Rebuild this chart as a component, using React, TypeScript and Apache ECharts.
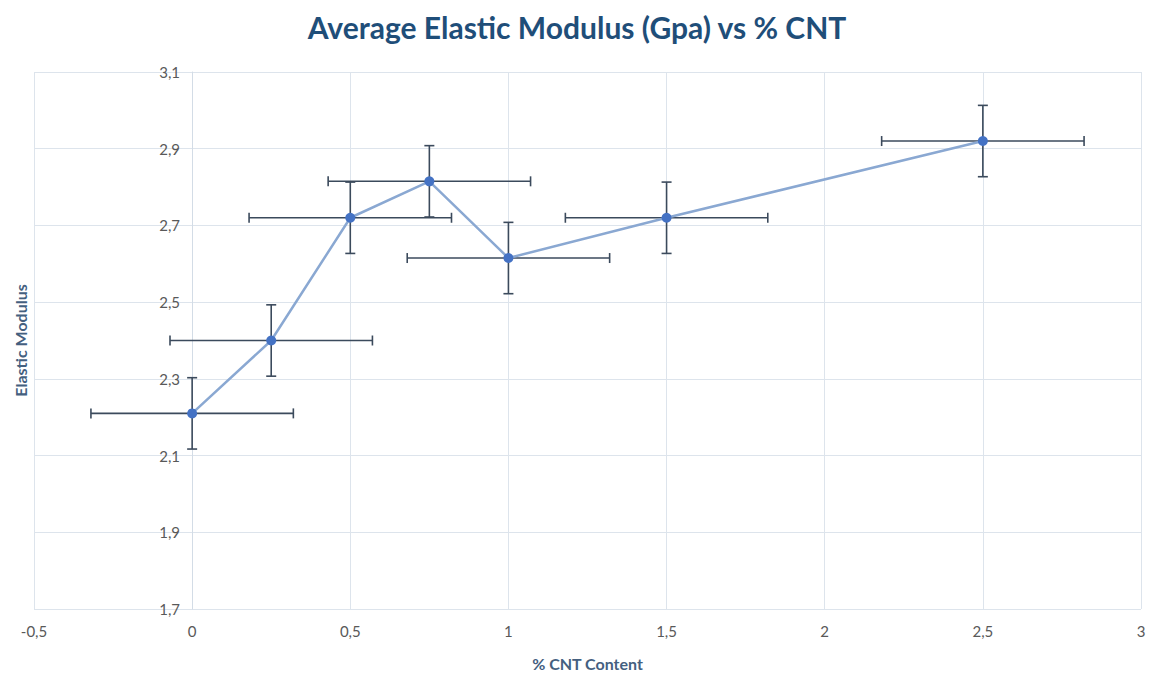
import React, { useEffect, useRef } from "react";
import * as echarts from "echarts";

const cntContent = [0, 0.25, 0.5, 0.75, 1, 1.5, 2.5];
const elasticModulus = [2.21, 2.4, 2.72, 2.815, 2.615, 2.72, 2.92];
const yError = [0.093, 0.093, 0.093, 0.093, 0.093, 0.093, 0.093];
const xError = [0.32, 0.32, 0.32, 0.32, 0.32, 0.32, 0.32];

const titleText = "Average Elastic Modulus (Gpa) vs % CNT";
const xName = "% CNT Content";
const yName = "Elastic Modulus";

const fmt = (v: number) => String(Math.round(v * 10) / 10).replace(".", ",");

export default function App() {
  const ref = useRef<HTMLDivElement>(null);
  useEffect(() => {
    if (!ref.current) return;
    const chart = echarts.init(ref.current, null, { renderer: "svg" });
    const points = cntContent.map((x, i) => [x, elasticModulus[i]]);
    const errData = cntContent.map((x, i) => [x, elasticModulus[i], xError[i], yError[i]]);
    const errColor = "#3b4a5c";
    chart.setOption({
      animation: false,
      backgroundColor: "#ffffff",
      title: {
        text: titleText,
        left: "center",
        top: 7,
        textStyle: { fontFamily: "Lato", fontWeight: "bold", fontSize: 30, color: "#1f4e79" },
      },
      grid: { left: 34, right: 13, top: 72, bottom: 69, containLabel: false, outerBoundsMode: "none" },
      xAxis: {
        type: "value",
        min: -0.5,
        max: 3,
        interval: 0.5,
        name: xName,
        nameLocation: "middle",
        nameGap: 46,
        nameTextStyle: { fontFamily: "Lato", fontWeight: "bold", fontSize: 16, color: "#44607f" },
        axisLine: { show: false },
        axisTick: { show: false },
        axisLabel: { formatter: fmt, fontFamily: "Lato", fontSize: 15, color: "#595959", margin: 14 },
        splitLine: { show: true, lineStyle: { color: "#dde4ec", width: 1 } },
      },
      yAxis: {
        type: "value",
        min: 1.7,
        max: 3.1,
        interval: 0.2,
        offset: -158,
        name: yName,
        nameLocation: "middle",
        nameGap: 164,
        nameTextStyle: { fontFamily: "Lato", fontWeight: "bold", fontSize: 16, color: "#44607f" },
        axisLine: { show: true, onZero: false, lineStyle: { color: "#d3dce6", width: 1 } },
        axisTick: { show: false },
        axisLabel: { formatter: fmt, fontFamily: "Lato", fontSize: 15, color: "#595959", margin: 12 },
        splitLine: { show: true, lineStyle: { color: "#dde4ec", width: 1 } },
      },
      series: [
        {
          type: "line",
          data: points,
          symbol: "circle",
          symbolSize: 10,
          z: 3,
          lineStyle: { color: "#8aa8d2", width: 2.5 },
          itemStyle: { color: "#4472c4" },
        },
        {
          type: "custom",
          z: 2,
          data: errData,
          renderItem: (params: any, api: any) => {
            const x = api.value(0);
            const y = api.value(1);
            const ex = api.value(2);
            const ey = api.value(3);
            const c = api.coord([x, y]);
            const l = api.coord([x - ex, y]);
            const r = api.coord([x + ex, y]);
            const t = api.coord([x, y + ey]);
            const b = api.coord([x, y - ey]);
            const cap = 5;
            const style = { stroke: errColor, lineWidth: 1.6 };
            return {
              type: "group",
              children: [
                { type: "line", shape: { x1: l[0], y1: c[1], x2: r[0], y2: c[1] }, style },
                { type: "line", shape: { x1: l[0], y1: c[1] - cap, x2: l[0], y2: c[1] + cap }, style },
                { type: "line", shape: { x1: r[0], y1: c[1] - cap, x2: r[0], y2: c[1] + cap }, style },
                { type: "line", shape: { x1: c[0], y1: t[1], x2: c[0], y2: b[1] }, style },
                { type: "line", shape: { x1: c[0] - cap, y1: t[1], x2: c[0] + cap, y2: t[1] }, style },
                { type: "line", shape: { x1: c[0] - cap, y1: b[1], x2: c[0] + cap, y2: b[1] }, style },
              ],
            };
          },
        },
      ],
    });
    return () => chart.dispose();
  }, []);
  return <div ref={ref} style={{ width: 1154, height: 678, position: "absolute", left: 0, top: 0 }} />;
}
